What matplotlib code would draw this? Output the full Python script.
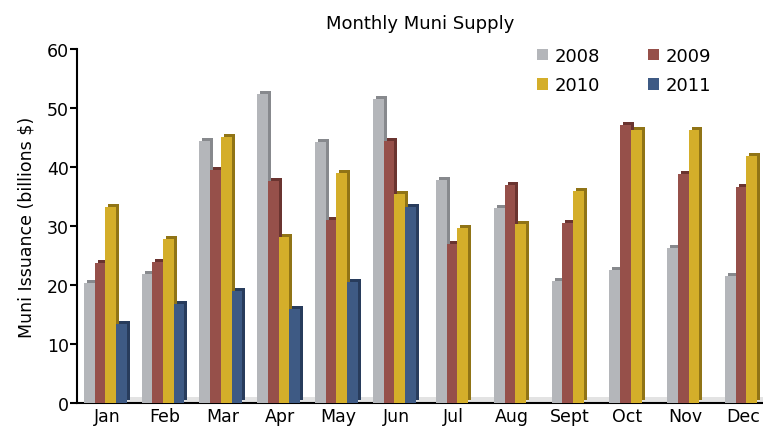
import numpy as np
import matplotlib
matplotlib.use('Agg')
import matplotlib.pyplot as plt
from matplotlib.transforms import ScaledTranslation

months = ['Jan', 'Feb', 'Mar', 'Apr', 'May', 'Jun', 'Jul', 'Aug', 'Sept', 'Oct', 'Nov', 'Dec']
v2008 = [20.3, 21.9, 44.4, 52.4, 44.2, 51.5, 37.8, 33.1, 20.6, 22.5, 26.2, 21.5]
v2009 = [23.7, 23.9, 39.5, 37.6, 31.0, 44.4, 26.9, 36.9, 30.5, 47.1, 38.8, 36.6]
v2010 = [33.2, 27.8, 45.1, 28.1, 39.0, 35.4, 29.7, 30.3, 36.0, 46.2, 46.2, 41.8]
v2011 = [13.4, 16.8, 19.0, 15.9, 20.5, 33.2, None, None, None, None, None, None]

names = ['2008', '2009', '2010', '2011']
colors = ['#b4b6ba', '#96504a', '#d4ae2a', '#3e5a84']
sides = ['#87898d', '#6a3430', '#907416', '#283c5c']

plt.rcParams['font.family'] = ['DejaVu Sans']

fig = plt.figure(figsize=(7.63, 4.27), dpi=100)
ax = fig.add_axes([77 / 763, 1 - 404 / 427, 1 - 77 / 763, (404 - 50) / 427])

x = np.arange(len(months))
w = 0.185
allvals = [v2008, v2009, v2010, v2011]
nser = np.array([sum(v[i] is not None for v in allvals) for i in range(len(months))])

# 3d look: a darker copy shifted up/right behind each bar
shift = ax.transData + ScaledTranslation(0.03, 0.03, fig.dpi_scale_trans)

handles = []
for j, vals in enumerate(allvals):
    ok = np.array([v is not None for v in vals])
    h = np.array([v if v is not None else 0 for v in vals], float)
    pos = x + (j - (nser - 1) / 2) * w - 0.03
    ax.bar(pos[ok], h[ok], w, color=sides[j], transform=shift, zorder=2 + 2 * j)
    b = ax.bar(pos[ok], h[ok], w, color=colors[j], label=names[j], zorder=3 + 2 * j)
    handles.append(b)

# floor strip
ax.axhspan(0, 1.0, xmin=0.01, color='#e3e3e3', zorder=1, lw=0)

ax.set_xlim((77 - 107) / 57.8, (763 - 107) / 57.8)
ax.set_ylim(0, 60)
ax.set_yticks([0, 10, 20, 30, 40, 50, 60])
ax.set_xticks(x)
ax.set_xticklabels(months, fontsize=12.5)
ax.tick_params(axis='y', labelsize=12.5, length=5, width=1.5, direction='out', pad=1)
ax.tick_params(axis='x', length=0, pad=3)

for s in ['top', 'right']:
    ax.spines[s].set_visible(False)
for s in ['left', 'bottom']:
    ax.spines[s].set_linewidth(1.5)

ax.set_ylabel('Muni Issuance (billions $)', fontsize=12.5, labelpad=8)
ax.set_title('Monthly Muni Supply', fontsize=13, pad=15)

order = [0, 2, 1, 3]
fig.legend([handles[i] for i in order], [names[i] for i in order], ncol=2,
           loc='upper left', bbox_to_anchor=(537 / 763, 1 - 48 / 427),
           frameon=False, fontsize=13, handlelength=0.6, handleheight=0.6,
           handletextpad=0.35, columnspacing=2.7, labelspacing=0.62,
           borderpad=0, borderaxespad=0)

fig.savefig('out.png', dpi=100)
